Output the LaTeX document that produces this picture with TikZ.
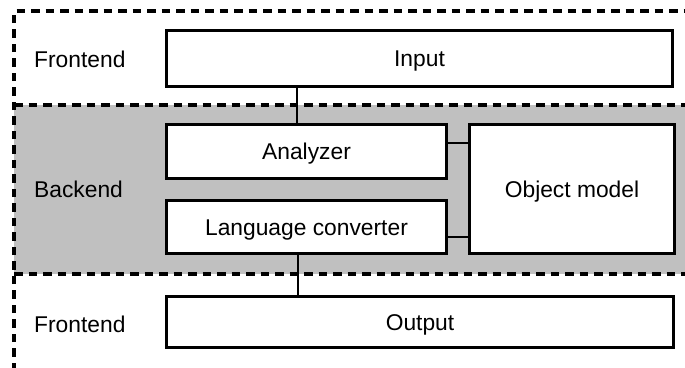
\documentclass[tikz,border=0pt]{standalone}
\usepackage{fontspec}
\setmainfont{Liberation Sans}
\begin{document}
\begin{tikzpicture}[x=1pt,y=-1pt,
  box/.style={draw=black,fill=white,line width=3.3pt,rectangle,inner sep=0pt,
    font=\fontsize{22.8}{26}\selectfont,text height=16pt,text depth=0pt},
  lbl/.style={font=\fontsize{22.8}{26}\selectfont,inner sep=0pt,anchor=base west},
  dashline/.style={line width=3.6pt,dash pattern=on 8.5pt off 6pt},
  conn/.style={line width=2.6pt}]
\useasboundingbox (0,0) rectangle (685,367);
\definecolor{bandgray}{HTML}{C0C0C0}
% backend band
\fill[bandgray] (14,105) rectangle (700,274);
% outer dashed frame
\draw[dashline] (14,400) -- (14,11) -- (700,11);
\draw[dashline] (14,105) -- (700,105);
\draw[dashline] (14,274) -- (700,274);
% boxes
\node[box,minimum width=506pt,minimum height=56pt] (input) at (419.5,58.5) {Input};
\node[box,minimum width=280pt,minimum height=54pt] (analyzer) at (306.5,151.5) {Analyzer};
\node[box,minimum width=280pt,minimum height=53pt] (lang) at (306.5,227) {Language converter};
\node[box,minimum width=205pt,minimum height=129pt] (obj) at (572,189) {Object model};
\node[box,minimum width=507pt,minimum height=51pt] (output) at (420,322) {Output};
% labels
\node[lbl] (fe1) at (34,67) {Frontend};
\node[lbl] (be) at (34,197) {Backend};
\node[lbl] (fe2) at (34,332) {Frontend};
% connectors
\draw[conn] (input.south -| 297,0) -- (analyzer.north -| 297,0);
\draw[conn] (lang.south -| 298,0) -- (output.north -| 298,0);
\draw[conn] (analyzer.east |- 0,143) -- (obj.west |- 0,143);
\draw[conn] (lang.east |- 0,237) -- (obj.west |- 0,237);
\end{tikzpicture}
\end{document}
